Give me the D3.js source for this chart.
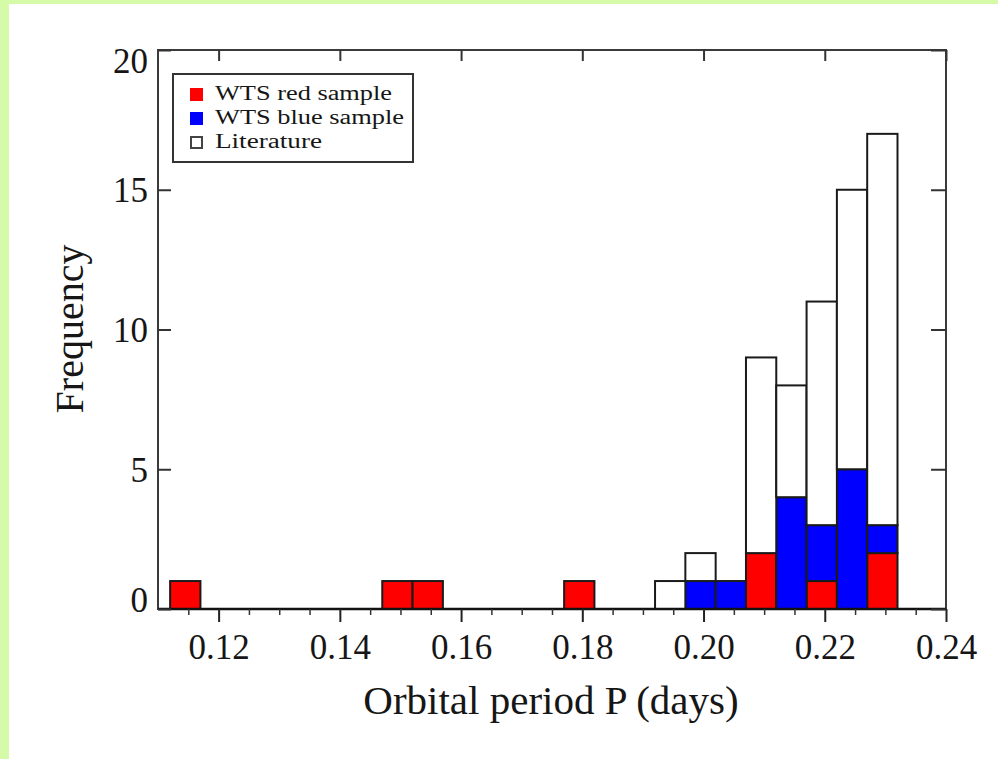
<!DOCTYPE html>
<html>
<head>
<meta charset="utf-8">
<script src="https://cdn.jsdelivr.net/npm/d3@7"></script>
<style>
  html, body { margin: 0; padding: 0; background: #d6fba8; }
  svg { display: block; }
</style>
</head>
<body>
<svg id="chart" width="998" height="759"></svg>
<script>
// ---- data ----
const binStarts = [0.112, 0.117, 0.122, 0.127, 0.132, 0.137, 0.142, 0.147, 0.152, 0.157, 0.162, 0.167,
                   0.172, 0.177, 0.182, 0.187, 0.192, 0.197, 0.202, 0.207, 0.212, 0.217, 0.222, 0.227];
const binWidth = 0.005;
const redSample  = [1,0,0,0,0,0,0,1,1,0,0,0,0,1,0,0,0,0,0,2,0,1,0,2];
const blueSample = [0,0,0,0,0,0,0,0,0,0,0,0,0,0,0,0,0,1,1,0,4,2,5,1];
const literature = [0,0,0,0,0,0,0,0,0,0,0,0,0,0,0,0,1,1,0,7,4,8,10,14];
const seriesNames = ["WTS red sample", "WTS blue sample", "Literature"];
const seriesColors = ["#ff0000", "#0000ff", "#ffffff"];
const xMajorTicks = [0.12, 0.14, 0.16, 0.18, 0.20, 0.22, 0.24];
const xMinorTicks = [0.115, 0.125, 0.13, 0.135, 0.145, 0.15, 0.155, 0.165, 0.17, 0.175, 0.185, 0.19, 0.195,
                     0.205, 0.21, 0.215, 0.225, 0.23, 0.235];
const yTicks = [0, 5, 10, 15, 20];
const xTitle = "Orbital period P (days)";
const yTitle = "Frequency";

// ---- layout ----
const svg = d3.select("#chart");
svg.append("rect").attr("x", 9).attr("y", 4).attr("width", 989).attr("height", 755).attr("fill", "#ffffff");

const L = 158, R = 946, T = 50, B = 609;
const x = d3.scaleLinear().domain([0.11, 0.24]).range([L, R]);
const y = d3.scaleLinear().domain([0, 20]).range([B, T]);
const font = "'Liberation Serif', 'Times New Roman', serif";
const textColor = "#161616";

// stacked bars
const table = binStarts.map((s, i) => ({ start: s, red: redSample[i], blue: blueSample[i], lit: literature[i] }));
const stack = d3.stack().keys(["red", "blue", "lit"])(table);
stack.forEach((layer, li) => {
  svg.append("g").selectAll("rect")
    .data(layer.filter(d => d[1] - d[0] > 0))
    .join("rect")
    .attr("x", d => x(d.data.start))
    .attr("width", d => x(d.data.start + binWidth) - x(d.data.start))
    .attr("y", d => y(d[1]))
    .attr("height", d => y(d[0]) - y(d[1]))
    .attr("fill", seriesColors[li])
    .attr("stroke", "#1a1a1a")
    .attr("stroke-width", 2);
});

// frame
svg.append("rect").attr("x", L).attr("y", T).attr("width", R - L).attr("height", B - T)
  .attr("fill", "none").attr("stroke", "#3a3a3a").attr("stroke-width", 2);
svg.append("line").attr("x1", L).attr("x2", R).attr("y1", B).attr("y2", B)
  .attr("stroke", "#111").attr("stroke-width", 2.5);

// bottom axis (outward ticks)
const gx = svg.append("g").attr("transform", `translate(0,${B})`)
  .call(d3.axisBottom(x).tickValues(xMajorTicks).tickSize(13).tickPadding(12).tickFormat(d3.format(".2f")));
gx.select(".domain").remove();
gx.selectAll(".tick line").attr("stroke", "#222").attr("stroke-width", 2);
gx.selectAll("text").attr("font-family", font).attr("font-size", 35).attr("fill", textColor);

const gxm = svg.append("g").attr("transform", `translate(0,${B})`)
  .call(d3.axisBottom(x).tickValues(xMinorTicks).tickSize(6).tickFormat(""));
gxm.select(".domain").remove();
gxm.selectAll(".tick line").attr("stroke", "#333").attr("stroke-width", 1.5);

// top axis (inward ticks)
const gt = svg.append("g").attr("transform", `translate(0,${T})`)
  .call(d3.axisBottom(x).tickValues(xMajorTicks).tickSize(11).tickFormat(""));
gt.select(".domain").remove();
gt.selectAll(".tick line").attr("stroke", "#333").attr("stroke-width", 2);

// left axis (inward ticks), labels kept inside frame height
const gy = svg.append("g").attr("transform", `translate(${L},0)`)
  .call(d3.axisRight(y).tickValues(yTicks).tickSize(13).tickFormat(""));
gy.select(".domain").remove();
gy.selectAll(".tick line").attr("stroke", "#333").attr("stroke-width", 2);
svg.append("g").selectAll("text").data(yTicks).join("text")
  .attr("x", L - 10)
  .attr("y", d => Math.min(Math.max(y(d), T + 11), B - 9))
  .attr("dy", "0.35em")
  .attr("text-anchor", "end")
  .attr("font-family", font).attr("font-size", 35).attr("fill", textColor)
  .text(d => d);

// right axis (inward ticks)
const gr = svg.append("g").attr("transform", `translate(${R},0)`)
  .call(d3.axisLeft(y).tickValues(yTicks).tickSize(15).tickFormat(""));
gr.select(".domain").remove();
gr.selectAll(".tick line").attr("stroke", "#333").attr("stroke-width", 2);

// titles
svg.append("text").attr("x", (L + R) / 2 - 1).attr("y", 714)
  .attr("text-anchor", "middle").attr("font-family", font).attr("font-size", 41).attr("fill", textColor)
  .text(xTitle);
svg.append("text").attr("transform", "translate(83,329) rotate(-90)")
  .attr("text-anchor", "middle").attr("font-family", font).attr("font-size", 40).attr("fill", textColor)
  .text(yTitle);

// legend
const legendWidths = [177, 189, 107];
const lg = svg.append("g");
lg.append("rect").attr("x", 173).attr("y", 74).attr("width", 240).attr("height", 88)
  .attr("fill", "#fff").attr("stroke", "#333").attr("stroke-width", 2);
seriesNames.forEach((name, i) => {
  const cy = 94 + i * 24;
  lg.append("rect").attr("x", i === 2 ? 191 : 190).attr("y", cy - 6 + (i === 2 ? 1 : 0))
    .attr("width", i === 2 ? 11 : 13).attr("height", i === 2 ? 11 : 13)
    .attr("fill", seriesColors[i])
    .attr("stroke", i === 2 ? "#444" : "none").attr("stroke-width", 2);
  lg.append("text").attr("x", 215).attr("y", cy + 6)
    .attr("font-family", font).attr("font-size", 20.5).attr("fill", textColor)
    .attr("textLength", legendWidths[i]).attr("lengthAdjust", "spacingAndGlyphs")
    .text(name);
});
</script>
</body>
</html>
